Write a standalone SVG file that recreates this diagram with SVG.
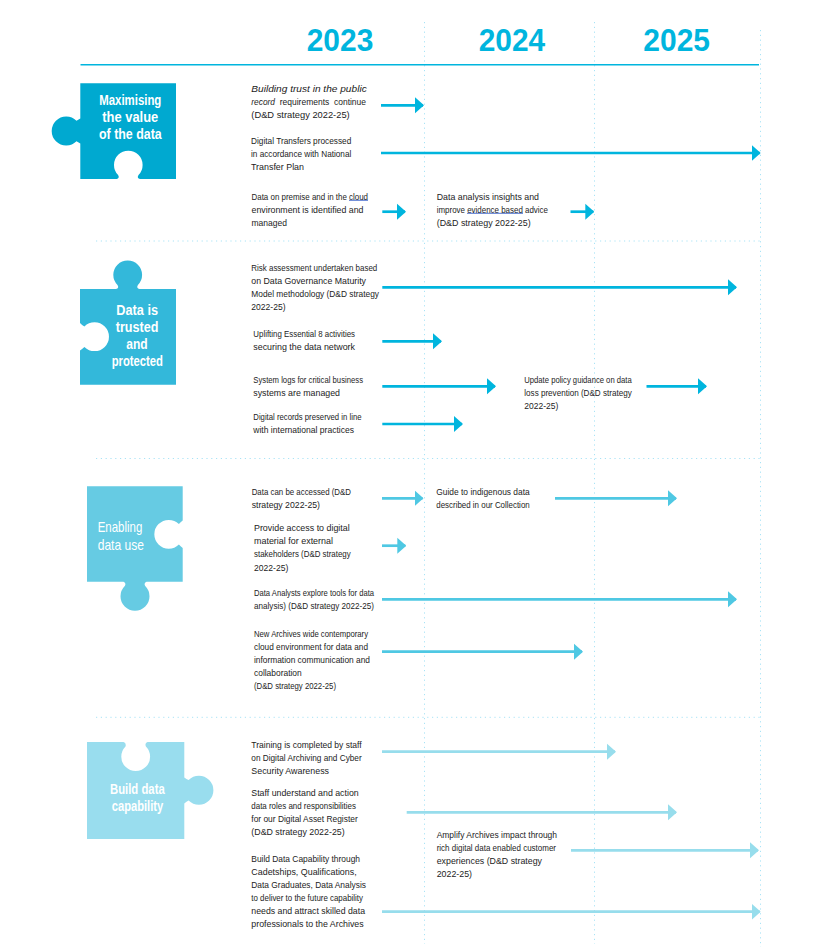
<svg xmlns="http://www.w3.org/2000/svg" width="826" height="947" viewBox="0 0 826 947">
<style>
text{font-family:"Liberation Sans",Arial,sans-serif}
.t{font-size:9.8px;fill:#1c1c1c}
.y{font-size:31px;font-weight:700;fill:#00B5DE}
.w{font-size:14px;font-weight:700;fill:#fff}
.wn{font-size:14.5px;fill:#fff}
.g{stroke:#A9E3F6;stroke-width:1;stroke-dasharray:1.2 3.6;fill:none}
.u{stroke:#2450C4;stroke-width:.8}
.a{fill:none;stroke-width:2.7}
.c1{stroke:#00B5DE;marker-end:url(#m1)}
.c3{stroke:#4FC8E3;marker-end:url(#m3)}
.c4{stroke:#97DDEC;marker-end:url(#m4)}
</style>
<defs>
<marker id="m1" markerUnits="userSpaceOnUse" markerWidth="9" markerHeight="17" viewBox="0 0 9 17" refX="8" refY="8.5" orient="auto"><path d="M0 .5L9 8.5L0 16.5Z" fill="#00B5DE"/></marker>
<marker id="m3" markerUnits="userSpaceOnUse" markerWidth="9" markerHeight="17" viewBox="0 0 9 17" refX="8" refY="8.5" orient="auto"><path d="M0 .5L9 8.5L0 16.5Z" fill="#4FC8E3"/></marker>
<marker id="m4" markerUnits="userSpaceOnUse" markerWidth="9" markerHeight="17" viewBox="0 0 9 17" refX="8" refY="8.5" orient="auto"><path d="M0 .5L9 8.5L0 16.5Z" fill="#97DDEC"/></marker>
</defs>
<rect width="826" height="947" fill="#fff"/>
<g id="grid">
<path class="g" d="M424.5 22V944M594.5 22V944M760.5 30V947M96 241H760M96 458.5H760M96 717.3H760"/>
<path d="M80.5 64.7H759" stroke="#00B5DE" stroke-width="1.6" fill="none"/>
</g>
<g id="years">
<text class="y" x="306.7" y="51" textLength="66.6" lengthAdjust="spacingAndGlyphs">2023</text>
<text class="y" x="478.7" y="51" textLength="66.4" lengthAdjust="spacingAndGlyphs">2024</text>
<text class="y" x="643.3" y="51" textLength="66.7" lengthAdjust="spacingAndGlyphs">2025</text>
</g>
<g id="piece-maximising">
<path fill="#00A9D0" d="M80.3 83.3H176V179H140Q136.5 178 138.5 175A14.3 14.3 0 1 0 118.1 175Q120 178 116.6 179H80.3V143.5Q78 142 76.5 141.2A14.5 14.5 0 1 1 76.5 120.8Q78 120 80.3 118.5Z"/>
<text class="w" x="99.3" y="105" textLength="62" lengthAdjust="spacingAndGlyphs">Maximising</text>
<text class="w" x="102.3" y="122" textLength="56" lengthAdjust="spacingAndGlyphs">the value</text>
<text class="w" x="99" y="139" textLength="62.7" lengthAdjust="spacingAndGlyphs">of the data</text>
</g>
<g id="piece-trusted">
<path fill="#33B8DA" d="M80 289H116Q119.5 288 117.5 285A14.4 14.4 0 1 1 137.9 285Q136 288 139.5 289H176V384.7H80V350.5Q82 349 84.4 346.9A14.4 14.4 0 1 0 84.4 326.5Q82 325 80 323Z"/>
<text class="w" x="116.3" y="315" textLength="41.7" lengthAdjust="spacingAndGlyphs">Data is</text>
<text class="w" x="115.7" y="331.7" textLength="42.7" lengthAdjust="spacingAndGlyphs">trusted</text>
<text class="w" x="126.3" y="348.7" textLength="21.4" lengthAdjust="spacingAndGlyphs">and</text>
<text class="w" x="111.7" y="365.7" textLength="51.3" lengthAdjust="spacingAndGlyphs">protected</text>
</g>
<g id="piece-enabling">
<path fill="#66CBE3" d="M87 486.3H182.7V520.5Q180.5 522 178.9 524.1A14.4 14.4 0 1 0 178.9 544.5Q180.5 546 182.7 548V581.7H146.5Q143.5 583 145.2 586A14.5 14.5 0 1 1 124.8 586Q126.5 583 123.5 581.7H87Z"/>
<text class="wn" x="97.7" y="532.3" textLength="44.6" lengthAdjust="spacingAndGlyphs">Enabling</text>
<text class="wn" x="97.7" y="550" textLength="46.3" lengthAdjust="spacingAndGlyphs">data use</text>
</g>
<g id="piece-capability">
<path fill="#99DDEE" d="M87 742H123.5Q126.5 743 125.5 746.5A14.4 14.4 0 1 0 145.9 746.5Q144.5 743 147.5 742H184.3V777.5Q186.5 779 188.6 780.1A14.5 14.5 0 1 1 188.6 800.5Q186.5 801.5 184.3 803.5V839H87Z"/>
<text class="w" x="110" y="794" textLength="54.7" lengthAdjust="spacingAndGlyphs">Build data</text>
<text class="w" x="111.7" y="811" textLength="51.6" lengthAdjust="spacingAndGlyphs">capability</text>
</g>
<g id="connectors">
<path class="a c1" d="M381 105.3H423"/>
<path class="a c1" d="M381 153H759.7"/>
<path class="a c1" d="M382.3 211.7H405"/>
<path class="a c1" d="M570.5 211.7H593.3"/>
<path class="a c1" d="M382.3 287.3H736"/>
<path class="a c1" d="M382.3 341.3H441"/>
<path class="a c1" d="M382.3 386.3H495"/>
<path class="a c1" d="M382.3 424H462"/>
<path class="a c1" d="M646.5 386.3H706"/>
<path class="a c3" d="M382 498.3H422.5"/>
<path class="a c3" d="M555 498.3H676"/>
<path class="a c3" d="M382 545.7H405.3"/>
<path class="a c3" d="M382 599.3H736"/>
<path class="a c3" d="M382 651.7H582"/>
<path class="a c4" d="M382 751.7H615"/>
<path class="a c4" d="M406.7 812.3H676"/>
<path class="a c4" d="M571 850.3H758"/>
<path class="a c4" d="M382 911.7H759.7"/>
</g>
<g id="label-trust">
<text class="t" x="251.3" y="91.5" textLength="115.4" lengthAdjust="spacingAndGlyphs" font-style="italic">Building trust in the public</text>
<text class="t" x="251.3" y="104.5" textLength="23.7" lengthAdjust="spacingAndGlyphs" font-style="italic">record</text>
<text class="t" x="279.7" y="104.5" textLength="49.6" lengthAdjust="spacingAndGlyphs">requirements</text>
<text class="t" x="334" y="104.5" textLength="32" lengthAdjust="spacingAndGlyphs">continue</text>
<text class="t" x="251.3" y="117.5" textLength="98.4" lengthAdjust="spacingAndGlyphs">(D&amp;D strategy 2022-25)</text>
</g>
<g id="label-transfers">
<text class="t" x="251" y="144" textLength="100.3" lengthAdjust="spacingAndGlyphs">Digital Transfers  processed</text>
<text class="t" x="251" y="157" textLength="100.3" lengthAdjust="spacingAndGlyphs">in accordance with National</text>
<text class="t" x="251" y="170" textLength="53" lengthAdjust="spacingAndGlyphs">Transfer Plan</text>
</g>
<g id="label-premise">
<text class="t" x="251.5" y="199.5" textLength="116.5" lengthAdjust="spacingAndGlyphs">Data on premise and in the cloud</text>
<path class="u" d="M349 200.3H368"/>
<text class="t" x="251.5" y="212.5" textLength="112" lengthAdjust="spacingAndGlyphs">environment is identified and</text>
<text class="t" x="251.5" y="225.5" textLength="35.5" lengthAdjust="spacingAndGlyphs">managed</text>
</g>
<g id="label-insights">
<text class="t" x="436.7" y="199.5" textLength="102.3" lengthAdjust="spacingAndGlyphs">Data analysis insights and</text>
<text class="t" x="436.7" y="212.5" textLength="111.3" lengthAdjust="spacingAndGlyphs">improve evidence based advice</text>
<path class="u" d="M467 213.3H523"/>
<text class="t" x="436.7" y="225.5" textLength="94" lengthAdjust="spacingAndGlyphs">(D&amp;D strategy 2022-25)</text>
</g>
<g id="label-risk">
<text class="t" x="251.3" y="270.7" textLength="126" lengthAdjust="spacingAndGlyphs">Risk assessment undertaken based</text>
<text class="t" x="251.3" y="283.7" textLength="114.7" lengthAdjust="spacingAndGlyphs">on Data Governance Maturity</text>
<text class="t" x="251.3" y="296.7" textLength="127.7" lengthAdjust="spacingAndGlyphs">Model methodology (D&amp;D strategy</text>
<text class="t" x="251.3" y="309.7" textLength="34.2" lengthAdjust="spacingAndGlyphs">2022-25)</text>
</g>
<g id="label-essential">
<text class="t" x="253.3" y="336.7" textLength="101.7" lengthAdjust="spacingAndGlyphs">Uplifting Essential 8 activities</text>
<text class="t" x="253.3" y="349.7" textLength="101.7" lengthAdjust="spacingAndGlyphs">securing the data network</text>
</g>
<g id="label-logs">
<text class="t" x="253.3" y="382.7" textLength="109.7" lengthAdjust="spacingAndGlyphs">System logs for critical business</text>
<text class="t" x="253.3" y="395.7" textLength="86.7" lengthAdjust="spacingAndGlyphs">systems are managed</text>
</g>
<g id="label-records">
<text class="t" x="253.3" y="420" textLength="108.2" lengthAdjust="spacingAndGlyphs">Digital records preserved in line</text>
<text class="t" x="253.3" y="433" textLength="100.7" lengthAdjust="spacingAndGlyphs">with international practices</text>
</g>
<g id="label-policy">
<text class="t" x="524.3" y="382.7" textLength="107.4" lengthAdjust="spacingAndGlyphs">Update policy guidance on data</text>
<text class="t" x="524.3" y="395.7" textLength="107.4" lengthAdjust="spacingAndGlyphs">loss prevention (D&amp;D strategy</text>
<text class="t" x="524.3" y="408.7" textLength="34" lengthAdjust="spacingAndGlyphs">2022-25)</text>
</g>
<g id="label-accessed">
<text class="t" x="251.7" y="495" textLength="99.3" lengthAdjust="spacingAndGlyphs">Data can be accessed (D&amp;D</text>
<text class="t" x="251.7" y="508" textLength="68.3" lengthAdjust="spacingAndGlyphs">strategy 2022-25)</text>
</g>
<g id="label-guide">
<text class="t" x="436.3" y="494.7" textLength="93.4" lengthAdjust="spacingAndGlyphs">Guide to indigenous data</text>
<text class="t" x="436.3" y="507.7" textLength="93.4" lengthAdjust="spacingAndGlyphs">described in our Collection</text>
</g>
<g id="label-provide">
<text class="t" x="254" y="531" textLength="95.7" lengthAdjust="spacingAndGlyphs">Provide access to digital</text>
<text class="t" x="254" y="544" textLength="79" lengthAdjust="spacingAndGlyphs">material for external</text>
<text class="t" x="254" y="557" textLength="96.7" lengthAdjust="spacingAndGlyphs">stakeholders (D&amp;D strategy</text>
<text class="t" x="254" y="570.5" textLength="34.3" lengthAdjust="spacingAndGlyphs">2022-25)</text>
</g>
<g id="label-analysts">
<text class="t" x="254" y="595.7" textLength="120" lengthAdjust="spacingAndGlyphs">Data Analysts explore tools for data</text>
<text class="t" x="254" y="608.7" textLength="120" lengthAdjust="spacingAndGlyphs">analysis) (D&amp;D strategy 2022-25)</text>
</g>
<g id="label-cloud">
<text class="t" x="254" y="636.7" textLength="114" lengthAdjust="spacingAndGlyphs">New Archives wide contemporary</text>
<text class="t" x="254" y="649.7" textLength="114" lengthAdjust="spacingAndGlyphs">cloud environment for data and</text>
<text class="t" x="254" y="662.7" textLength="116" lengthAdjust="spacingAndGlyphs">information communication and</text>
<text class="t" x="254" y="676" textLength="47.7" lengthAdjust="spacingAndGlyphs">collaboration</text>
<text class="t" x="254" y="689" textLength="82" lengthAdjust="spacingAndGlyphs">(D&amp;D strategy 2022-25)</text>
</g>
<g id="label-training">
<text class="t" x="251.3" y="747.7" textLength="110.4" lengthAdjust="spacingAndGlyphs">Training is completed by staff</text>
<text class="t" x="251.3" y="760.7" textLength="110.4" lengthAdjust="spacingAndGlyphs">on Digital Archiving and Cyber</text>
<text class="t" x="251.3" y="773.7" textLength="77.7" lengthAdjust="spacingAndGlyphs">Security Awareness</text>
</g>
<g id="label-roles">
<text class="t" x="251.3" y="795.7" textLength="107.4" lengthAdjust="spacingAndGlyphs">Staff understand and action</text>
<text class="t" x="251.3" y="809" textLength="104.7" lengthAdjust="spacingAndGlyphs">data roles and responsibilities</text>
<text class="t" x="251.3" y="822" textLength="106.4" lengthAdjust="spacingAndGlyphs">for our Digital Asset Register</text>
<text class="t" x="251.3" y="835" textLength="93.4" lengthAdjust="spacingAndGlyphs">(D&amp;D strategy 2022-25)</text>
</g>
<g id="label-amplify">
<text class="t" x="436.7" y="837.7" textLength="120.3" lengthAdjust="spacingAndGlyphs">Amplify Archives impact through</text>
<text class="t" x="436.7" y="850.7" textLength="119.3" lengthAdjust="spacingAndGlyphs">rich digital data enabled customer</text>
<text class="t" x="436.7" y="863.7" textLength="105.3" lengthAdjust="spacingAndGlyphs">experiences (D&amp;D strategy</text>
<text class="t" x="436.7" y="876.7" textLength="35.3" lengthAdjust="spacingAndGlyphs">2022-25)</text>
</g>
<g id="label-cadets">
<text class="t" x="251.3" y="861.7" textLength="108.7" lengthAdjust="spacingAndGlyphs">Build Data Capability  through</text>
<text class="t" x="251.3" y="875" textLength="105.4" lengthAdjust="spacingAndGlyphs">Cadetships, Qualifications,</text>
<text class="t" x="251.3" y="888" textLength="114.7" lengthAdjust="spacingAndGlyphs">Data Graduates, Data Analysis</text>
<text class="t" x="251.3" y="901" textLength="111.7" lengthAdjust="spacingAndGlyphs">to deliver to the future capability</text>
<text class="t" x="251.3" y="914" textLength="113.7" lengthAdjust="spacingAndGlyphs">needs and attract skilled data</text>
<text class="t" x="251.3" y="927" textLength="112.4" lengthAdjust="spacingAndGlyphs">professionals to the Archives</text>
</g>
</svg>
